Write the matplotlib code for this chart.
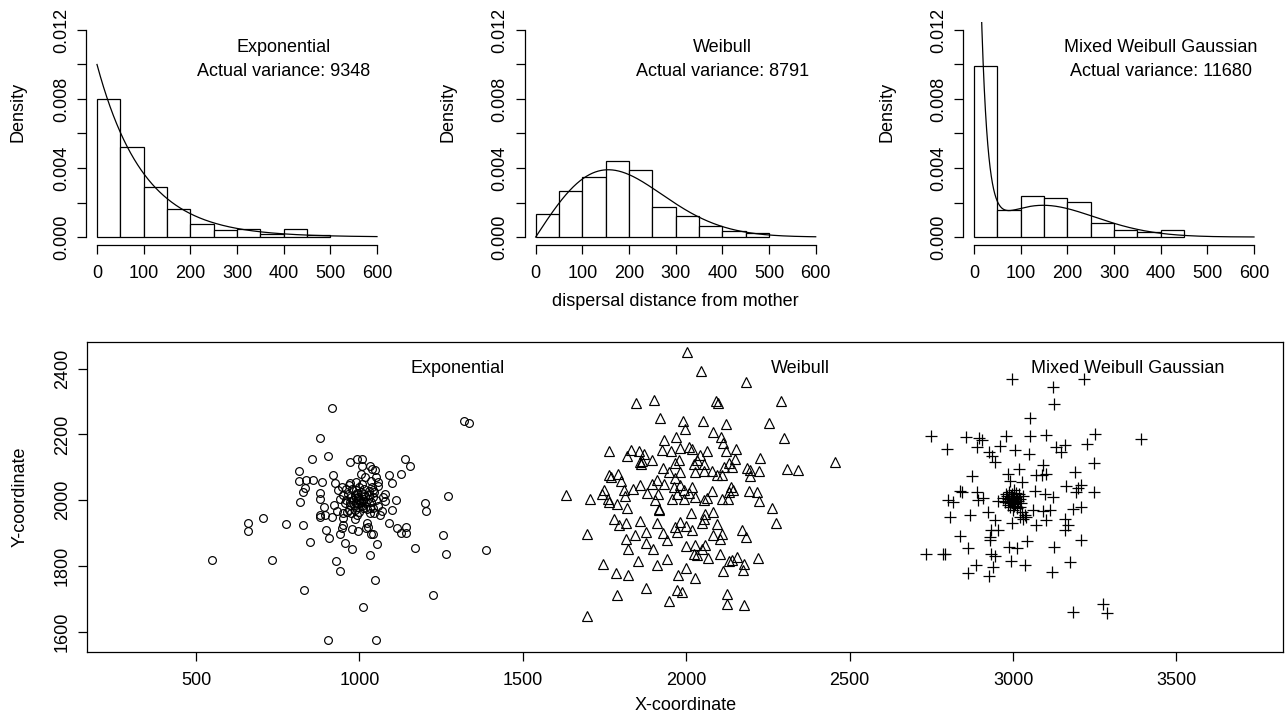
import numpy as np
import matplotlib
matplotlib.use("Agg")
import matplotlib.pyplot as plt

plt.rcParams['font.family'] = ['Liberation Sans', 'DejaVu Sans']
plt.rcParams['font.size'] = 13

# -------------------------------------------------------------------------
# Histogram data (density per 50 m bin)
# -------------------------------------------------------------------------
bin_left = [0, 50, 100, 150, 200, 250, 300, 350, 400, 450]
exp_dens = [0.0080, 0.0052, 0.0029, 0.0016, 0.00074, 0.00039, 0.00046, 0.00019, 0.00048, 0.00012]
weib_dens = [0.00135, 0.00267, 0.00350, 0.00443, 0.00391, 0.00176, 0.00124, 0.00062, 0.00033, 0.00023]
mix_dens = [0.00993, 0.00159, 0.00236, 0.00224, 0.00205, 0.00081, 0.00043, 0.00031, 0.00041]

variances = [9348, 8791, 11680]
titles = ["Exponential", "Weibull", "Mixed Weibull Gaussian"]

# fitted kernel parameters
exp_mean = 100.0
weib_shape, weib_scale = 2.0, 220.0
mix_w, mix_exp_mean, mix_weib_scale = 0.55, 14.0, 210.0

# -------------------------------------------------------------------------
# Seed positions
# -------------------------------------------------------------------------
exp_pts = [
    (917, 2280), (1321, 2241), (1335, 2235), (880, 2190), (855, 2124), (903, 2133), (972, 2117),
    (993, 2126), (1009, 2125), (1138, 2126), (1154, 2105), (816, 2090), (816, 2057), (835, 2061),
    (859, 2062), (884, 2056), (832, 2038), (828, 2024), (819, 1993), (878, 2022), (878, 2002),
    (918, 2075), (926, 2052), (1089, 2078), (1126, 2080), (1100, 2051), (1113, 2001), (1100, 1970),
    (1199, 1992), (1205, 1967), (1270, 2013), (658, 1932), (658, 1907), (706, 1946), (776, 1927),
    (826, 1925), (892, 1979), (880, 1955), (878, 1949), (895, 1955), (916, 1949), (898, 1910),
    (906, 1886), (848, 1872), (940, 1896), (957, 1870), (978, 1852), (976, 1912), (994, 1907),
    (1022, 1931), (1025, 1918), (1035, 1898), (1041, 1896), (1055, 1866), (1031, 1833), (1091, 1932),
    (1114, 1914), (1126, 1901), (1142, 1918), (1142, 1900), (1169, 1854), (1257, 1893), (1265, 1837),
    (1388, 1847), (550, 1817), (731, 1817), (927, 1814), (939, 1785), (1048, 1757), (831, 1726),
    (1226, 1711), (1011, 1674), (903, 1576), (1052, 1574), (949, 1947), (950, 1924), (948, 1914),
    (987, 1943), (1020, 1914), (1044, 1961), (1063, 1954), (1070, 1968), (1079, 1997), (1079, 2020),
    (1058, 2043), (1052, 2071), (1039, 2094), (1049, 2091), (1032, 2104), (1009, 2103), (1005, 2081),
    (989, 2056), (971, 2051), (948, 2041), (934, 2030), (940, 2004), (922, 1984), (932, 1968),
    (950, 1962), (967, 1970), (1032, 1975), (1056, 1982), (1073, 2010), (1042, 2030), (1058, 2056),
    (1036, 2059), (1017, 2071),
    # dense core around the mother tree
    (1000, 2000), (995, 2010), (1005, 1995), (990, 1990), (1010, 2005), (985, 2015), (1015, 2020),
    (980, 2000), (1020, 1990), (995, 1980), (1005, 2025), (975, 2010), (1025, 2005), (990, 2030),
    (1010, 1975), (970, 1985), (1030, 2015), (985, 1970), (1015, 2035), (965, 2020), (1035, 1995),
    (1000, 2040), (1000, 1965), (960, 2000), (1040, 2010), (978, 2035), (1022, 1972), (955, 1990),
    (1045, 2025), (992, 1955), (1008, 2048), (968, 2045), (1032, 1960), (950, 2015), (1050, 2000),
    (983, 1985), (1017, 2012), (997, 2003), (1003, 1992), (988, 2008), (1012, 1998), (972, 1995),
    (1028, 2028), (962, 1965), (1038, 2040), (958, 2035), (1042, 1975), (993, 2022), (1007, 1982),
    (975, 1960),
]

weib_pts = [
    (2002, 2451), (2046, 2392), (2184, 2360), (1846, 2295), (1902, 2305), (2090, 2301), (2097, 2297),
    (2289, 2303), (1920, 2250), (1991, 2241), (2052, 2241), (2122, 2232), (2253, 2235), (1997, 2217),
    (1969, 2193), (2081, 2208), (2105, 2191), (2112, 2174), (2299, 2190), (1931, 2182), (1763, 2148),
    (1830, 2153), (1855, 2150), (1819, 2133), (1871, 2140), (1895, 2123), (1859, 2115), (1862, 2109),
    (1865, 2119), (1925, 2152), (1954, 2150), (1981, 2159), (2007, 2161), (2017, 2155), (2063, 2149),
    (2121, 2150), (2152, 2155), (2043, 2136), (2032, 2123), (2053, 2111), (2024, 2109), (1977, 2121),
    (1965, 2114), (1930, 2098), (1946, 2086), (1981, 2085), (1966, 2066), (2027, 2086), (2053, 2089),
    (2078, 2089), (2094, 2078), (2109, 2076), (2114, 2101), (2131, 2113), (2140, 2101), (2148, 2126),
    (2187, 2098), (2196, 2093), (2194, 2074), (2225, 2127), (2223, 2090), (2307, 2094), (2341, 2093),
    (2455, 2117), (1764, 2075), (1769, 2071), (1792, 2080), (1801, 2057), (1633, 2015), (1705, 2003),
    (1747, 2032), (1742, 2020), (1759, 2005), (1764, 1995), (1788, 1989), (1820, 1977), (1808, 2032),
    (1814, 2012), (1837, 2035), (1859, 2047), (1879, 2023), (1895, 2050), (1910, 2060), (1905, 2000),
    (1918, 1974), (1916, 1969), (1932, 2048), (1915, 2020), (1961, 2040), (1956, 2005), (1971, 2020),
    (1981, 2045), (1992, 2030), (1994, 2005), (2007, 2022), (2017, 2040), (2027, 2010), (2053, 2000),
    (2063, 2007), (2078, 2027), (2109, 2002), (2127, 2005), (2137, 2040), (2142, 2030), (2132, 2025),
    (2191, 2028), (2216, 2025), (2224, 1997), (2262, 1977), (2275, 1932), (1779, 1942), (1795, 1924),
    (1815, 1929), (1857, 1937), (1877, 1903), (1910, 1929), (1930, 1900), (1696, 1896), (1816, 1883),
    (1844, 1893), (1877, 1870), (1823, 1850), (1898, 1850), (1941, 1878), (1966, 1918), (1971, 1903),
    (1981, 1934), (1998, 1920), (2017, 1908), (2015, 1962), (2053, 1944), (2058, 1959), (2048, 1931),
    (2083, 1964), (2094, 1927), (2109, 1898), (2102, 1883), (2083, 1893), (1998, 1861), (2028, 1863),
    (2058, 1863), (2025, 1837), (2034, 1832), (2048, 1850), (2068, 1825), (2104, 1837), (2132, 1814),
    (2140, 1819), (2155, 1827), (2177, 1807), (2173, 1789), (2172, 1908), (2183, 1888), (2221, 1825),
    (1745, 1805), (1786, 1779), (1823, 1771), (1851, 1814), (1909, 1804), (1942, 1821), (1998, 1795),
    (1976, 1771), (2027, 1764), (2112, 1784), (1877, 1734), (1788, 1711), (1948, 1693), (1973, 1728),
    (1987, 1721), (2124, 1714), (2124, 1685), (2177, 1682), (1696, 1648),
]

mix_pts = [
    (2997, 2368), (3217, 2369), (3121, 2343), (3126, 2293), (3051, 2250), (2750, 2196), (2797, 2157),
    (2856, 2192), (2895, 2190), (2905, 2184), (2890, 2162), (2978, 2196), (2961, 2166), (3005, 2154),
    (3052, 2194), (3050, 2139), (3101, 2198), (2926, 2147), (2937, 2133), (2944, 2116), (3130, 2162),
    (3148, 2146), (3158, 2169), (3226, 2172), (3250, 2202), (3391, 2185), (3248, 2114), (3091, 2107),
    (3071, 2078), (3090, 2076), (3102, 2081), (2985, 2081), (3018, 2096), (2992, 2057), (3026, 2055),
    (2874, 2074), (3191, 2086), (3163, 2044), (3199, 2037), (3209, 2045), (3194, 2025), (3248, 2025),
    (2837, 2027), (2844, 2025), (2801, 2000), (2816, 1995), (2890, 2025), (2893, 2000), (2908, 2008),
    (2954, 1997), (3066, 2028), (3098, 2020), (3122, 2010), (3061, 1971), (3092, 1967), (3112, 1969),
    (3102, 1939), (3071, 1924), (3184, 1974), (3209, 1979), (3158, 1944), (3168, 1924), (3158, 1908),
    (2806, 1949), (2867, 1954), (2924, 1964), (2944, 1941), (3031, 1944), (2998, 1929), (2837, 1890),
    (2862, 1853), (2929, 1888), (2934, 1908), (2954, 1908), (2929, 1878), (2735, 1837), (2786, 1837),
    (2793, 1837), (2934, 1837), (2944, 1829), (2988, 1858), (3012, 1853), (3044, 1875), (3124, 1858),
    (3209, 1880), (2995, 1814), (3038, 1802), (3173, 1812), (2886, 1804), (2862, 1779), (2939, 1797),
    (2927, 1768), (3119, 1780), (3184, 1660), (3275, 1685), (3288, 1658),
    # tight cluster (Gaussian component) at the mother
    (3000, 2000), (2995, 2008), (3006, 1995), (2990, 1992), (3010, 2010), (2985, 2003), (3015, 1998),
    (2998, 2018), (3003, 1983), (2980, 2012), (3020, 2005), (2992, 1978), (3008, 2022), (2975, 1995),
    (3025, 1990), (2988, 2025), (3012, 1975), (2970, 2008), (3030, 2012), (3000, 1970), (3002, 2030),
    (2983, 1985), (3018, 2018), (2993, 2013), (3007, 1988), (2978, 2020), (3022, 1980), (2996, 1995),
    (3004, 2005), (2987, 1998), (3013, 2002), (3028, 1965), (3035, 1955), (3040, 1948), (3022, 1950),
]


def weibull_pdf(x, k, lam):
    return (k / lam) * (x / lam) ** (k - 1) * np.exp(-(x / lam) ** k)


def style_hist_axis(ax):
    # R-like axes: no box, axis lines only spanning the tick range
    for side in ['top', 'right']:
        ax.spines[side].set_visible(False)
    ax.spines['left'].set_bounds(0, 0.012)
    ax.spines['bottom'].set_bounds(0, 600)
    ax.set_xlim(-24, 624)
    ax.set_ylim(-0.00048, 0.01248)
    ax.set_xticks([0, 100, 200, 300, 400, 500, 600])
    ax.set_yticks([0, 0.002, 0.004, 0.006, 0.008, 0.010, 0.012])
    ax.set_yticklabels(['0.000', '', '0.004', '', '0.008', '', '0.012'])
    ax.tick_params(axis='both', direction='out', length=6.5, width=0.9)
    ax.tick_params(axis='x', pad=8)
    ax.tick_params(axis='y', pad=5)
    for lab in ax.get_yticklabels():
        lab.set_rotation(90)
        lab.set_va('center')
    for sp in ax.spines.values():
        sp.set_linewidth(0.9)


W, H = 1285, 718
fig = plt.figure(figsize=(W / 100, H / 100), dpi=100)

hist_data = [exp_dens, weib_dens, mix_dens]
hist_left_px = [85.8, 524.5, 962.8]
density_label_px = [18, 448, 887]
xs = np.linspace(0, 600, 1201)
curves = [
    np.exp(-xs / exp_mean) / exp_mean,
    weibull_pdf(xs, weib_shape, weib_scale),
    mix_w * np.exp(-xs / mix_exp_mean) / mix_exp_mean
    + (1 - mix_w) * weibull_pdf(xs, weib_shape, mix_weib_scale),
]

for i in range(3):
    ax = fig.add_axes([hist_left_px[i] / W, (H - 245.3) / H, 302.4 / W, 223.6 / H])
    dens = hist_data[i]
    ax.bar(bin_left[:len(dens)], dens, width=50, align='edge',
           facecolor='white', edgecolor='black', linewidth=0.9)
    ax.plot(xs, curves[i], color='black', linewidth=0.9)
    style_hist_axis(ax)
    ax.text(400, 0.0110, titles[i], ha='center', va='center')
    ax.text(400, 0.00958, f"Actual variance: {variances[i]}", ha='center', va='center')
    fig.text(density_label_px[i] / W, 1 - 112 / H, "Density", rotation=90,
             ha='center', va='center')

fig.text(675.8 / W, 1 - 302 / H, "dispersal distance from mother", ha='center', va='center')

# -------------------------------------------------------------------------
# Scatter of seed positions
# -------------------------------------------------------------------------
ax = fig.add_axes([86.6 / W, (H - 651.7) / H, (1283 - 86.6) / W, 310 / H])
ex, ey = zip(*exp_pts)
wx, wy = zip(*weib_pts)
mx, my = zip(*mix_pts)
ax.plot(ex, ey, 'o', mfc='none', mec='black', ms=5.6, mew=0.85, linestyle='none')
ax.plot(wx, wy, '^', mfc='none', mec='black', ms=7, mew=0.85, linestyle='none')
ax.plot(mx, my, '+', color='black', ms=8.5, mew=0.9, linestyle='none')

ax.text(1300, 2400, "Exponential", ha='center', va='center')
ax.text(2350, 2400, "Weibull", ha='center', va='center')
ax.text(3350, 2400, "Mixed Weibull Gaussian", ha='center', va='center')

ax.set_xlim(165, 3826)
ax.set_ylim(1539, 2482)
ax.set_xticks([500, 1000, 1500, 2000, 2500, 3000, 3500])
ax.set_yticks([1600, 1800, 2000, 2200, 2400])
ax.tick_params(axis='both', direction='out', length=6.5, width=0.9)
ax.tick_params(axis='x', pad=8)
ax.tick_params(axis='y', pad=5)
for lab in ax.get_yticklabels():
    lab.set_rotation(90)
    lab.set_va('center')
for sp in ax.spines.values():
    sp.set_linewidth(0.9)

fig.text(686 / W, 1 - 706 / H, "X-coordinate", ha='center', va='center')
fig.text(20 / W, 1 - 497 / H, "Y-coordinate", rotation=90, ha='center', va='center')

fig.savefig("out.png", dpi=100)
